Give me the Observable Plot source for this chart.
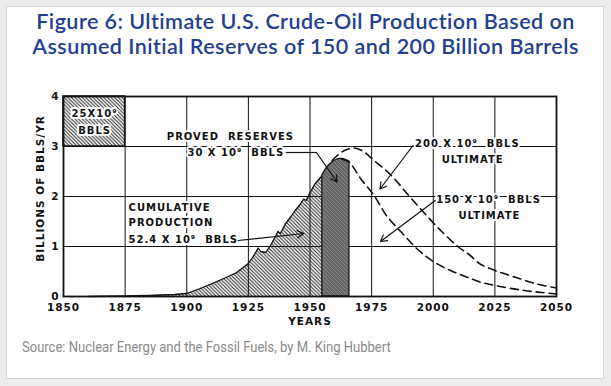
<!DOCTYPE html>
<html><head><meta charset="utf-8">
<script src="https://cdn.jsdelivr.net/npm/d3@7"></script>
<script src="https://cdn.jsdelivr.net/npm/@observablehq/plot@0.6"></script>
<style>
html,body{margin:0;padding:0;background:#ececec;}
#wrap{position:relative;width:611px;height:386px;overflow:hidden;background:#ececec;}
#card{position:absolute;left:6px;top:6px;width:598px;height:373px;background:#fff;border:1px solid #d6d6d6;box-sizing:border-box;}
#title{position:absolute;left:0;top:9px;width:611px;text-align:center;font-family:Lato,"Open Sans",sans-serif;font-weight:600;font-size:21.5px;letter-spacing:0.45px;line-height:25px;color:#22408f;}
#chart{position:absolute;left:0;top:80px;}
#chart svg text{letter-spacing:1px;}
#source{position:absolute;left:22px;top:338px;font-family:Roboto,sans-serif;font-size:15.5px;color:#8a8a8a;white-space:nowrap;transform:scaleX(0.84);transform-origin:left top;}
</style></head><body>
<div id="wrap"><div id="card"></div>
<div id="title">Figure 6: Ultimate U.S. Crude-Oil Production Based on<br>Assumed Initial Reserves of 150 and 200 Billion Barrels</div>
<div id="chart"></div>
<div id="source">Source: Nuclear Energy and the Fossil Fuels, by M. King Hubbert</div>
</div>
<script>
// Tick values
const xTicks = [1850, 1875, 1900, 1925, 1950, 1975, 2000, 2025, 2050];
const yTicks = [0, 1, 2, 3, 4];

// Cumulative production (billions of barrels per year)
const prodYear  = [1860,1875,1885,1895,1900,1905,1910,1915,1920,1925,1927,1929,1930,1932,1934,1936,1937,1938,1940,1942,1944,1946,1947.5,1948.5,1949.5,1952,1955];
const prodValue = [0,0.01,0.02,0.04,0.06,0.15,0.25,0.36,0.47,0.66,0.8,0.97,0.9,0.88,1.02,1.2,1.3,1.26,1.45,1.58,1.72,1.84,1.95,1.92,2.03,2.25,2.42];

// Proved reserves block
const resYear  = [1955,1957,1959,1961,1963,1966];
const resValue = [2.42,2.58,2.68,2.74,2.75,2.7];

// Ultimate 150 x 10^9 bbls curve
const u150Year  = [1963,1966,1970.5,1976,1981,1987,1993.5,2000,2007,2013,2019,2025,2037,2050];
const u150Value = [2.75,2.68,2.36,2.02,1.62,1.29,0.95,0.70,0.52,0.40,0.29,0.22,0.12,0.05];

// Ultimate 200 x 10^9 bbls curve
const u200Year  = [1959,1962,1965,1968,1971,1976,1983,1989.5,1996,2003,2010,2015,2019,2025,2033,2042,2050];
const u200Value = [2.72,2.86,2.94,2.97,2.92,2.72,2.42,2.05,1.69,1.32,1.0,0.82,0.65,0.52,0.39,0.25,0.17];

// Annotation texts (data coordinates)
const labelsMiddle = [
  {t:"25X10⁹", x:1862.6, y:3.66},
  {t:"BBLS", x:1862.6, y:3.32},
  {t:"PROVED  RESERVES", x:1917.7, y:3.2}
];
const labelsEnd = [
  {t:"30 X 10⁹  BBLS", x:1939.5, y:2.88}
];
const labelsStart = [
  {t:"CUMULATIVE", x:1876.4, y:1.78},
  {t:"PRODUCTION", x:1876.4, y:1.48},
  {t:"52.4 X 10⁹  BBLS", x:1876.4, y:1.14},
  {t:"200 X 10⁹  BBLS", x:1992.6, y:3.06},
  {t:"150 X 10⁹  BBLS", x:2001.2, y:1.94}
];
const labelsUlt = [
  {t:"ULTIMATE", x:2016, y:2.74},
  {t:"ULTIMATE", x:2022.8, y:1.62}
];
const leaders = [
  {x1:1940.2, y1:2.88, x2:1952.6, y2:2.88}
];
const arrows = [
  {x1:1952.6, y1:2.88, x2:1961, y2:2.29},
  {x1:1920.8, y1:1.12, x2:1947.4, y2:1.26},
  {x1:1991.8, y1:3.02, x2:1978.4, y2:2.15},
  {x1:2000.8, y1:1.92, x2:1978.6, y2:1.10}
];
const box = [{x1:1850, x2:1875, y1:3, y2:4}];

const prod = prodYear.map((d,i)=>({x:d,y:prodValue[i]}));
const res = resYear.map((d,i)=>({x:d,y:resValue[i]}));
const u150 = u150Year.map((d,i)=>({x:d,y:u150Value[i]}));
const u200 = u200Year.map((d,i)=>({x:d,y:u200Value[i]}));

const font = "DejaVu Sans";
const txt = {fontSize: 10, fontWeight:"bold", fill:"#111", stroke:"white", strokeWidth:4};
const chart = Plot.plot({
  width: 611, height: 252,
  marginTop: 16, marginLeft: 63, marginRight: 55, marginBottom: 36,
  style: {fontFamily: font, fontWeight: "bold", fontSize: "10.5px", color: "#111", background: "transparent"},
  x: {domain: [1850, 2050], ticks: xTicks, tickSize: 0, tickPadding: 7, tickFormat: d => String(d), label: null},
  y: {domain: [0, 4], ticks: yTicks, tickSize: 0, tickPadding: 4, tickFormat: d => String(d), label: null},
  marks: [
    Plot.ruleX(xTicks, {stroke: "#111", strokeWidth: 1}),
    Plot.ruleY(yTicks, {stroke: "#111", strokeWidth: 1}),
    Plot.rect(box, {x1:"x1", x2:"x2", y1:"y1", y2:"y2", fill: "url(#hatch)", stroke: "#111", strokeWidth: 1.5}),
    Plot.areaY(prod, {x:"x", y:"y", fill: "url(#hatch)", curve: "linear"}),
    Plot.line(prod, {x:"x", y:"y", stroke: "#111", strokeWidth: 1.3}),
    Plot.areaY(res, {x:"x", y:"y", fill: "url(#darkhatch)", stroke: "#111", strokeWidth: 1.3, curve: "catmull-rom"}),
    Plot.line(u200, {x:"x", y:"y", stroke: "#111", strokeWidth: 1.6, strokeDasharray: "8,5", curve: "catmull-rom"}),
    Plot.line(u150, {x:"x", y:"y", stroke: "#111", strokeWidth: 1.6, strokeDasharray: "8,5", curve: "catmull-rom"}),
    Plot.text(labelsMiddle, {x:"x", y:"y", text:"t", textAnchor:"middle", ...txt}),
    Plot.text(labelsEnd, {x:"x", y:"y", text:"t", textAnchor:"end", ...txt}),
    Plot.text(labelsStart, {x:"x", y:"y", text:"t", textAnchor:"start", ...txt}),
    Plot.text(labelsUlt, {x:"x", y:"y", text:"t", textAnchor:"middle", ...txt}),
    Plot.link(leaders, {x1:"x1", y1:"y1", x2:"x2", y2:"y2", stroke:"#111", strokeWidth:1.2}),
    Plot.arrow(arrows, {x1:"x1", y1:"y1", x2:"x2", y2:"y2", stroke:"#111", strokeWidth:1.2, headLength: 9, bend: 0}),
    Plot.text(["BILLIONS OF BBLS/YR"], {frameAnchor:"left", textAnchor:"middle", rotate:-90, dx:-23, dy:-8, fontSize:10.5, fontWeight:"bold", fill:"#111"}),
    Plot.text(["YEARS"], {frameAnchor:"bottom", textAnchor:"middle", dy:28, fontSize:10.5, fontWeight:"bold", fill:"#111"}),
    Plot.frame({stroke:"#111", strokeWidth:1.8})
  ]
});
d3.select(chart).insert("defs", ":first-child").html(`
  <pattern id="hatch" patternUnits="userSpaceOnUse" width="3.6" height="3.6">
    <path d="M-1,-1 L4.6,4.6 M-1,2.6 L1,4.6 M2.6,-1 L4.6,1" stroke="#222" stroke-width="1"/>
  </pattern>
  <pattern id="darkhatch" patternUnits="userSpaceOnUse" width="4" height="4">
    <rect width="4" height="4" fill="#666"/>
    <path d="M-1,-1 L5,5 M-1,3 L1,5 M3,-1 L5,1" stroke="#8a8a8a" stroke-width="0.9"/>
  </pattern>`);
document.getElementById("chart").appendChild(chart);
</script>
</body></html>
